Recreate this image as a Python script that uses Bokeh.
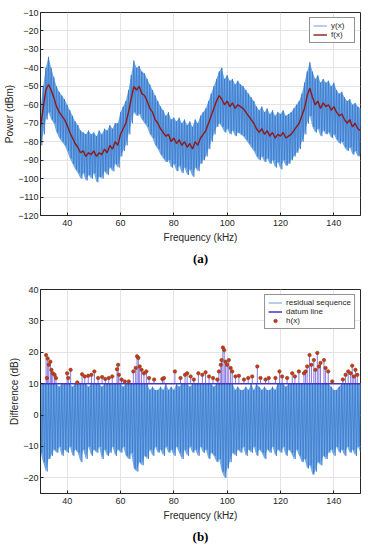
import numpy as np
from bokeh.plotting import figure
from bokeh.models import Legend, LegendItem, Title, FixedTicker, Range1d
from bokeh.layouts import column
from bokeh.embed import file_html
from bokeh.resources import INLINE

# ---------------- data ----------------
freq = list(range(30, 151))  # kHz, 1 kHz steps

# (a) smoothed spectrum f(x), dBm
f_vals = [-72, -62, -52, -49, -52, -56, -61, -64, -66, -68,
          -71, -75, -78, -81, -83, -86, -85, -88, -86, -87,
          -85, -88, -86, -87, -84, -86, -82, -84, -80, -82,
          -76, -73, -70, -64, -57, -50, -52, -50, -54, -55,
          -58, -62, -64, -68, -70, -73, -75, -77, -76, -80,
          -78, -81, -79, -82, -80, -83, -81, -84, -80, -82,
          -78, -76, -74, -70, -66, -62, -58, -55, -57, -60,
          -58, -61, -59, -62, -60, -61, -62, -64, -66, -68,
          -70, -73, -75, -73, -76, -74, -77, -75, -78, -76,
          -77, -75, -78, -77, -76, -74, -72, -70, -66, -62,
          -55, -51, -56, -60, -58, -62, -59, -61, -60, -63,
          -61, -64, -66, -65, -68, -70, -68, -72, -70, -73,
          -74]

# (a) raw spectrum y(x): upper / lower swing per kHz, dBm
y_hi = [-62, -50, -40, -34, -40, -45, -50, -53, -55, -57,
        -60, -63, -66, -69, -71, -74, -75, -76, -74, -76,
        -75, -77, -74, -76, -73, -74, -71, -73, -70, -70,
        -64, -61, -58, -52, -44, -36, -40, -39, -42, -43,
        -46, -49, -52, -55, -58, -61, -63, -66, -64, -68,
        -67, -69, -67, -70, -68, -71, -69, -72, -68, -70,
        -66, -64, -62, -58, -54, -50, -46, -42, -40, -46,
        -44, -47, -46, -49, -47, -49, -50, -52, -54, -56,
        -58, -61, -63, -61, -64, -62, -65, -63, -66, -64,
        -65, -63, -66, -65, -64, -62, -60, -58, -54, -48,
        -42, -37, -42, -46, -44, -48, -46, -48, -47, -50,
        -48, -52, -54, -53, -56, -58, -57, -60, -59, -61,
        -62]
y_lo = [-82, -76, -68, -64, -68, -70, -75, -78, -80, -82,
        -85, -89, -92, -95, -97, -100, -97, -101, -98, -100,
        -97, -102, -99, -100, -96, -98, -94, -96, -92, -94,
        -88, -85, -82, -76, -70, -64, -66, -65, -68, -70,
        -72, -76, -78, -82, -84, -87, -89, -91, -90, -94,
        -92, -96, -93, -97, -94, -98, -95, -99, -94, -96,
        -92, -90, -88, -84, -80, -76, -72, -70, -72, -75,
        -73, -76, -74, -77, -75, -76, -77, -79, -81, -83,
        -85, -88, -90, -88, -91, -89, -92, -90, -94, -91,
        -95, -90, -93, -92, -90, -88, -86, -84, -80, -76,
        -70, -66, -72, -75, -73, -77, -74, -76, -75, -78,
        -76, -79, -81, -80, -83, -85, -83, -87, -85, -88,
        -86]

# (b) residual sequence swing per kHz, dB
r_hi = [10, 10, 10, 10, 10, 10, 10, 9, 10, 10,
        10, 10, 9, 10, 10, 10, 10, 10, 9, 10,
        10, 10, 10, 9, 10, 10, 10, 10, 10, 10,
        10, 9, 10, 10, 10, 10, 10, 10, 10, 10,
        10, 8, 9, 8, 8, 9, 8, 10, 8, 9,
        8, 10, 9, 10, 10, 10, 9, 10, 10, 10,
        10, 10, 10, 10, 10, 9, 10, 10, 10, 10,
        10, 10, 10, 8, 9, 8, 8, 9, 8, 10,
        8, 10, 9, 8, 9, 8, 8, 9, 8, 10,
        10, 10, 9, 10, 10, 10, 10, 10, 10, 10,
        10, 10, 10, 10, 10, 10, 10, 10, 10, 9,
        8, 8, 9, 10, 10, 10, 10, 10, 10, 10,
        10]
r_lo = [-12, -15, -18, -14, -13, -11, -12, -10, -13, -11,
        -12, -10, -13, -11, -12, -15, -11, -14, -10, -13,
        -11, -12, -10, -14, -11, -13, -12, -10, -13, -11,
        -12, -10, -13, -14, -12, -17, -18, -15, -16, -13,
        -14, -11, -13, -10, -12, -11, -13, -10, -12, -11,
        -13, -10, -12, -14, -11, -13, -10, -12, -11, -13,
        -10, -12, -11, -14, -12, -13, -15, -14, -18, -20,
        -17, -15, -12, -13, -11, -12, -10, -13, -11, -12,
        -10, -13, -11, -12, -14, -11, -12, -10, -13, -11,
        -12, -10, -13, -11, -12, -14, -11, -13, -15, -14,
        -17, -16, -19, -18, -15, -16, -13, -14, -12, -11,
        -13, -10, -12, -11, -13, -10, -12, -11, -13, -10,
        -12]

datum_level = 10

# h(x): residual samples above the datum line
h_x = [32.1, 32.4, 32.7, 33.1, 33.7, 34.1, 34.6, 35.3, 35.8, 40.0,
       40.4, 41.3, 43.8, 45.6, 46.6, 47.9, 49.1, 50.2, 51.6, 53.1,
       54.3, 55.6, 56.9, 58.7, 59.1, 59.4, 60.4, 61.6, 63.1, 64.8,
       65.7, 66.2, 66.7, 67.2, 67.9, 68.8, 69.7, 70.7, 72.6, 75.7,
       76.3, 80.4, 82.5, 84.2, 85.0, 86.3, 87.5, 89.2, 90.7, 91.9,
       93.2, 94.7, 96.3, 96.9, 97.6, 97.9, 98.4, 98.9, 99.4, 100.0,
       100.6, 101.3, 101.9, 103.1, 104.4, 106.3, 107.9, 109.4, 111.3, 112.5,
       114.4, 115.6, 118.1, 119.6, 120.6, 122.5, 124.4, 125.4, 126.9, 128.8,
       129.4, 130.0, 130.9, 131.6, 132.5, 133.1, 133.8, 134.4, 135.0, 136.3,
       136.9, 137.9, 139.4, 143.4, 144.4, 145.4, 146.3, 146.9, 147.5, 148.1,
       148.8]
h_y = [19.1, 11.8, 18.0, 16.0, 17.0, 14.4, 13.3, 12.8, 11.8, 13.3,
       11.8, 14.4, 10.4, 13.0, 12.3, 12.5, 12.8, 13.9, 11.8, 12.1,
       11.5, 11.8, 12.3, 14.6, 16.0, 12.8, 11.3, 10.7, 10.7, 13.9,
       15.0, 18.7, 18.2, 15.5, 14.4, 13.3, 13.9, 11.8, 11.3, 11.5,
       11.8, 13.9, 11.8, 12.8, 13.3, 12.3, 11.3, 13.3, 12.8, 13.6,
       12.3, 11.8, 11.3, 13.9, 16.0, 17.5, 21.5, 20.7, 17.0, 16.0,
       17.5, 15.0, 13.9, 12.3, 12.5, 11.3, 11.8, 12.3, 15.5, 11.8,
       11.3, 11.8, 11.8, 13.9, 12.3, 11.8, 13.3, 12.3, 13.9, 13.3,
       13.9, 15.5, 19.1, 16.0, 17.5, 14.4, 19.8, 15.5, 16.6, 17.5,
       15.0, 13.9, 10.7, 11.3, 12.8, 13.9, 13.3, 15.7, 12.3, 14.4,
       12.8]

x_ticks = [40, 60, 80, 100, 120, 140]
ya_ticks = list(range(-120, 0, 10))
yb_ticks = list(range(-20, 41, 10))


def zigzag(hi, lo):
    fx = np.asarray(freq, dtype=float)
    xs = np.empty(2 * len(fx))
    ys = np.empty(2 * len(fx))
    xs[0::2] = fx
    xs[1::2] = fx + 0.5
    ys[0::2] = hi
    ys[1::2] = lo
    return xs, ys


FONT = "Liberation Sans"
INK = "#262626"
BAND = "#5ea2e2"
TRACE = "#3b74cc"


def style(p, yticks):
    p.xaxis.ticker = FixedTicker(ticks=x_ticks)
    p.yaxis.ticker = FixedTicker(ticks=yticks)
    for ax in (p.xaxis[0], p.yaxis[0]):
        ax.major_tick_in = 3
        ax.major_tick_out = 0
        ax.minor_tick_line_color = None
        ax.axis_line_color = INK
        ax.major_tick_line_color = INK
        ax.major_label_text_font = FONT
        ax.major_label_text_font_size = "9px"
        ax.major_label_text_color = INK
        ax.axis_label_text_font = FONT
        ax.axis_label_text_font_size = "10px"
        ax.axis_label_text_font_style = "normal"
        ax.axis_label_text_color = INK
    p.yaxis.axis_label_standoff = 0
    p.yaxis.major_label_standoff = 2
    p.xaxis.axis_label_standoff = 3
    p.xaxis.major_label_standoff = 4
    p.grid.grid_line_color = "#e4e4e4"
    p.grid.grid_line_width = 1
    p.outline_line_color = INK
    p.outline_line_width = 1
    p.background_fill_color = "white"
    p.border_fill_color = "white"


def legend_style(lg):
    lg.location = "top_right"
    lg.margin = 5
    lg.padding = 3
    lg.spacing = 0
    lg.glyph_width = 14
    lg.glyph_height = 9
    lg.label_height = 9
    lg.label_standoff = 4
    lg.label_text_font = FONT
    lg.label_text_font_size = "8px"
    lg.label_text_color = INK
    lg.border_line_color = INK
    lg.border_line_width = 1
    lg.background_fill_alpha = 1


def caption(text):
    return Title(text=text, align="center", text_font="Liberation Serif",
                 text_font_size="13px", text_font_style="bold",
                 text_color="black", standoff=6)


# ---------------- (a) ----------------
pa = figure(width=361, height=268, output_backend="svg", toolbar_location=None,
            x_range=Range1d(30, 150), y_range=Range1d(-120, -10),
            min_border_left=40, min_border_right=1, min_border_top=12,
            min_border_bottom=50)
style(pa, ya_ticks)
pa.xaxis.axis_label = "Frequency (kHz)"
pa.yaxis.axis_label = "Power (dBm)"

pa.varea(x=freq, y1=y_lo, y2=y_hi, fill_color=BAND, fill_alpha=0.9)
ax_, ay_ = zigzag(y_hi, y_lo)
r_y = pa.line(ax_, ay_, line_color=TRACE, line_width=0.8, line_alpha=0.9)
r_f = pa.line(freq, f_vals, line_color="#8e1a1a", line_width=1.4)

lga = Legend(items=[LegendItem(label="y(x)", renderers=[r_y]),
                    LegendItem(label="f(x)", renderers=[r_f])])
legend_style(lga)
pa.add_layout(lga)
pa.add_layout(caption("(a)"), "below")

# ---------------- (b) ----------------
pb = figure(width=361, height=278, output_backend="svg", toolbar_location=None,
            x_range=Range1d(30, 150), y_range=Range1d(-25, 40),
            min_border_left=40, min_border_right=1, min_border_top=21,
            min_border_bottom=51)
style(pb, yb_ticks)
pb.xaxis.axis_label = "Frequency (kHz)"
pb.yaxis.axis_label = "Difference (dB)"

pb.varea(x=freq, y1=r_lo, y2=r_hi, fill_color=BAND, fill_alpha=0.9)
bx_, by_ = zigzag(r_hi, r_lo)
r_res = pb.line(bx_, by_, line_color=TRACE, line_width=0.8, line_alpha=0.9)
pb.segment(x0=h_x, y0=[datum_level] * len(h_x), x1=h_x, y1=h_y,
           line_color="#8a78e0", line_width=1)
r_dat = pb.line([freq[0], freq[-1]], [datum_level, datum_level],
                line_color="#4a32c4", line_width=1.5)
r_h = pb.scatter(h_x, h_y, size=3.5, fill_color="#e02a20",
                 line_color="#6a5010", line_width=0.6)

lgb = Legend(items=[LegendItem(label="residual sequence", renderers=[r_res]),
                    LegendItem(label="datum line", renderers=[r_dat]),
                    LegendItem(label="h(x)", renderers=[r_h])])
legend_style(lgb)
pb.add_layout(lgb)
pb.add_layout(caption("(b)"), "below")

layout = column(pa, pb, spacing=0)
open("out.html", "w").write(file_html(layout, INLINE))
